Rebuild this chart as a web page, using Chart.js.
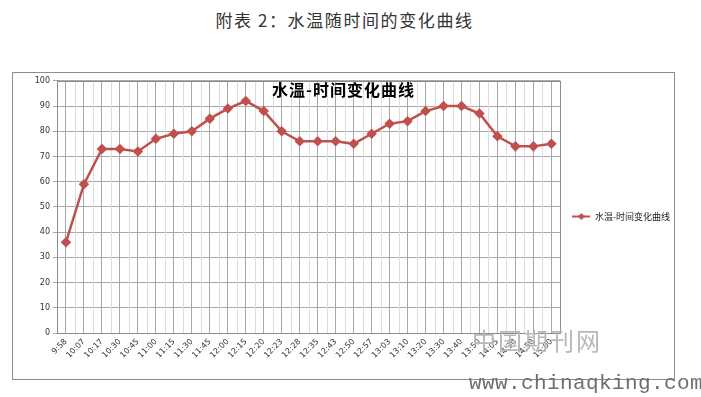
<!DOCTYPE html>
<html>
<head>
<meta charset="utf-8">
<script src="https://cdn.jsdelivr.net/npm/chart.js@4"></script>
<style>
  body { margin: 0; background: #fff; width: 701px; height: 397px; position: relative; overflow: hidden; font-family: "Noto Sans CJK SC", sans-serif; }
  #pageTitle { position: absolute; left: 0; width: 689px; top: 7px; text-align: center; font-size: 17px; color: #333; letter-spacing: 1.6px; }
  #frame { position: absolute; left: 12px; top: 72px; width: 661px; height: 306px; border: 1px solid #8c8c8c; }
  #wrap { position: absolute; left: 0; top: 0; width: 661px; height: 306px; }
  #chartTitle { position: absolute; left: 259px; top: 4px; font-size: 16px; font-weight: bold; color: #000; letter-spacing: 1px; }
  #wm1 { position: absolute; left: 472px; top: 322px; font-size: 24px; color: #b8b8b8; letter-spacing: 2px; }
  #wm2 { position: absolute; left: 469px; top: 372px; font-family: "Liberation Mono", monospace; font-size: 21px; color: #6e6e6e; letter-spacing: 0.4px; }
</style>
</head>
<body>
<div id="pageTitle">附表 2：水温随时间的变化曲线</div>
<div id="frame">
  <div id="wrap"><canvas id="waterTemp"></canvas></div>
  <div id="chartTitle">水温-时间变化曲线</div>
</div>
<div id="wm1">中国期刊网</div>
<div id="wm2">www.chinaqking.com</div>
<script>
var times = ['9:58','10:07','10:17','10:30','10:45','11:00','11:15','11:30','11:45','12:00',
             '12:15','12:20','12:23','12:28','12:35','12:43','12:50','12:57','13:03','13:10',
             '13:20','13:30','13:40','13:50','14:05','14:30','14:50','15:00'];
var temps = [36, 59, 73, 73, 72, 77, 79, 80, 85, 89,
             92, 88, 80, 76, 76, 76, 75, 79, 83, 84,
             88, 90, 90, 87, 78, 74, 74, 75];
var seriesName = '水温-时间变化曲线';
var lineColor = '#c0504d';

// little line + diamond for the legend
var legendIcon = document.createElement('canvas');
legendIcon.width = 18; legendIcon.height = 9;
var ic = legendIcon.getContext('2d');
ic.strokeStyle = lineColor; ic.lineWidth = 2;
ic.beginPath(); ic.moveTo(0, 4.5); ic.lineTo(18, 4.5); ic.stroke();
ic.fillStyle = lineColor;
ic.beginPath(); ic.moveTo(9, 1); ic.lineTo(12.5, 4.5); ic.lineTo(9, 8); ic.lineTo(5.5, 4.5); ic.closePath(); ic.fill();

// light lines on the category boundaries
var boundaryLines = {
  id: 'boundaryLines',
  afterLayout: function(chart) {
    // legend sits a bit higher and further right in the original
    if (chart.legend) {
      chart.legend.top -= 12; chart.legend.bottom -= 12;
      chart.legend.left += 6; chart.legend.right += 6;
    }
  },
  beforeDatasetsDraw: function(chart) {
    var x = chart.scales.x, a = chart.chartArea, ctx = chart.ctx;
    var half = (x.getPixelForValue(1) - x.getPixelForValue(0)) / 2;
    ctx.save();
    ctx.strokeStyle = '#dcdcdc';
    ctx.lineWidth = 1;
    for (var i = 0; i < times.length; i++) {
      var px = Math.round(x.getPixelForValue(i) + half) + 0.5;
      if (px >= a.right - 1) continue;
      ctx.beginPath(); ctx.moveTo(px, a.top); ctx.lineTo(px, a.bottom); ctx.stroke();
    }
    // plot area frame
    ctx.strokeStyle = '#8c8c8c';
    ctx.strokeRect(Math.round(a.left) + 0.5, Math.round(a.top) + 0.5, Math.round(a.right - a.left), Math.round(a.bottom - a.top));
    ctx.restore();
  }
};

new Chart(document.getElementById('waterTemp'), {
  type: 'line',
  data: {
    labels: times,
    datasets: [{
      label: seriesName,
      data: temps,
      borderColor: lineColor,
      backgroundColor: lineColor,
      borderWidth: 2.5,
      pointStyle: 'rectRot',
      pointRadius: 3.5,
      pointHoverRadius: 3.5,
      tension: 0
    }]
  },
  options: {
    responsive: true,
    maintainAspectRatio: false,
    animation: false,
    layout: { padding: { left: 14, top: 5, right: 0, bottom: 0 } },
    plugins: {
      title: { display: false },
      tooltip: { enabled: false },
      legend: {
        position: 'right',
        labels: {
          usePointStyle: true,
          pointStyle: legendIcon,
          pointStyleWidth: 18,
          boxHeight: 9,
          padding: 6,
          color: '#222',
          font: { family: 'Noto Sans CJK SC', size: 9 }
        }
      }
    },
    scales: {
      x: {
        offset: true,
        afterFit: function(s) { s.height = 46; },
        grid: { offset: false, color: '#a8a8a8', drawTicks: false },
        border: { color: '#8c8c8c' },
        ticks: {
          autoSkip: false, minRotation: 45, maxRotation: 45, padding: 4,
          color: '#333', font: { family: 'DejaVu Sans', size: 8 }
        }
      },
      y: {
        min: 0, max: 100,
        afterFit: function(s) { s.width = 30; },
        grid: { color: '#a8a8a8', tickLength: 4 },
        border: { color: '#8c8c8c' },
        ticks: { stepSize: 10, padding: 3, color: '#333', font: { family: 'DejaVu Sans', size: 8 } }
      }
    }
  },
  plugins: [boundaryLines]
});
</script>
</body>
</html>
